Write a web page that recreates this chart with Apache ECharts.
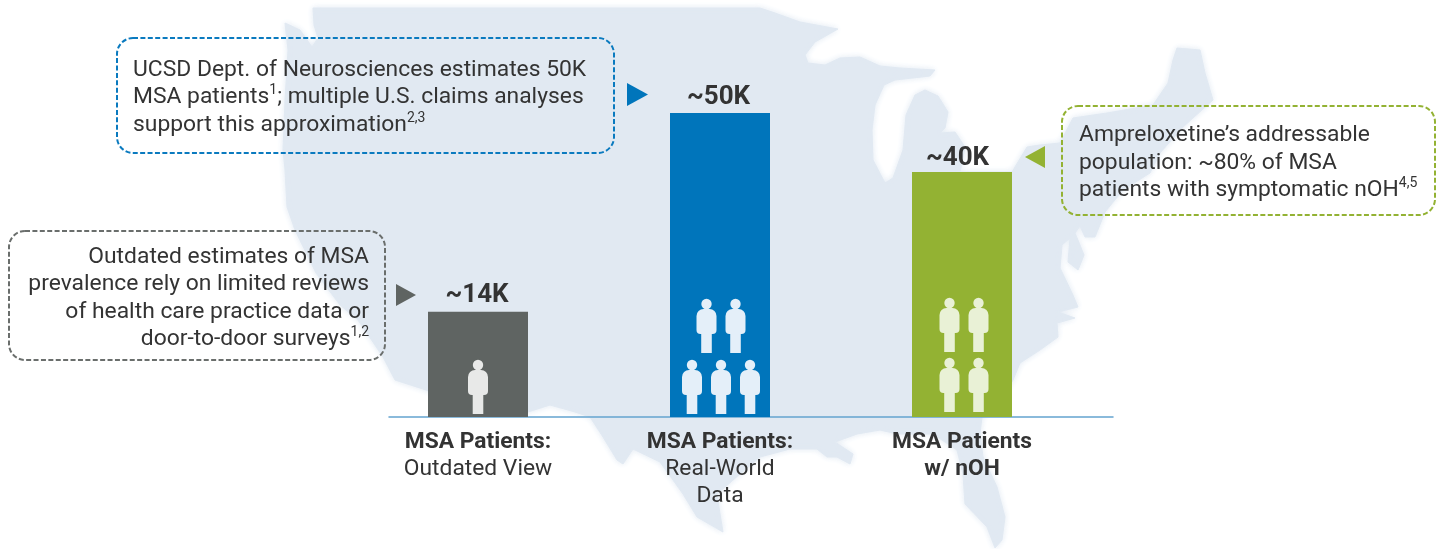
<!DOCTYPE html>
<html>
<head>
<meta charset="utf-8">
<title>MSA patients</title>
<script src="https://cdn.jsdelivr.net/npm/echarts@6/dist/echarts.min.js"></script>
<style>
  html,body{margin:0;padding:0;background:#fff;}
  #chart{width:1442px;height:549px;}
</style>
</head>
<body>
<div id="chart"></div>
<script>
  // bar heights as drawn (the ~14K bar is not to scale in the source)
  const categories = ['outdated','realWorld','nOH'];
  const barValues = [17.3,50,40.3];
  const barLabels = ['~14K','~50K','~40K'];
  const barColors = ['#5f6462','#0075bb','#93b233'];
  const personColors = ['#e8e9e8','#e4eff9','#e9f1d6'];
  // people per row, bottom row first
  const peopleRows = [[1],[3,2],[2,2]];

  const axisLabels = [
    '{b|MSA Patients:}\n{r|Outdated View}',
    '{b|MSA Patients:}\n{r|Real-World}\n{r|Data}',
    '{b|MSA Patients}\n{b|w/ nOH}'
  ];

  const blueNote = [
    '{n|UCSD Dept. of Neurosciences estimates 50K}',
    '{n|MSA patients}{s|1}{n|; multiple U.S. claims analyses}',
    '{n|support this approximation}{s|2,3}'
  ];
  const greyNote = [
    '{n|Outdated estimates of MSA}',
    '{n|prevalence rely on limited reviews}',
    '{n|of health care practice data or}',
    '{n|door-to-door surveys}{s|1,2}'
  ];
  const greenNote = [
    '{n|Ampreloxetine\u2019s addressable}',
    '{n|population: ~80% of MSA}',
    '{n|patients with symptomatic nOH}{s|4,5}'
  ];

  // hand traced outline of the background map
  const mapOutline = [
    [313,8],[314,25],[318,38],[312,47],[300,30],[285,23],[288,50],[285,100],[283,150],[285,170],
    [287,207],[295,230],[316,273],[340,305],[358,320],[383,357],[395,380],[426,390],[470,405],
    [528,412],[550,405],[575,412],[590,417],[603,437],[617,460],[623,464],[633,449],[660,462],
    [683,494],[697,517],[723,532],[720,514],[717,494],[740,474],[760,457],[790,449],[817,449],
    [827,457],[837,457],[850,464],[853,454],[835,442],[857,434],[880,430],[897,434],[933,434],
    [957,450],[963,474],[965,504],[987,527],[995,548],[1002,540],[1005,517],[997,487],[983,457],
    [980,434],[982,417],[1000,400],[1013,380],[1020,363],[1040,350],[1058,337],[1057,323],
    [1075,318],[1058,312],[1078,307],[1072,293],[1060,268],[1062,245],[1070,238],[1068,262],
    [1078,270],[1084,255],[1075,233],[1080,226],[1085,237],[1095,237],[1105,212],[1123,190],
    [1150,173],[1160,153],[1183,127],[1213,100],[1205,73],[1200,50],[1177,48],[1173,60],[1168,83],
    [1153,105],[1107,113],[1073,118],[1060,143],[1040,145],[1027,147],[1012,172],[960,172],
    [965,147],[955,132],[940,133],[945,128],[948,112],[938,96],[925,90],[915,95],[906,115],
    [903,150],[893,178],[885,183],[873,160],[872,130],[875,105],[884,85],[895,80],[930,76],
    [935,70],[900,68],[880,66],[860,57],[840,58],[825,65],[808,63],[805,55],[815,42],[838,29],
    [800,22],[775,13],[760,8]
  ];

  const noteRich = {
    n:{fontFamily:'Roboto',fontSize:22.85,fontWeight:400,lineHeight:27.4,fill:'#333',color:'#333'},
    s:{fontFamily:'Roboto',fontSize:14,fontWeight:400,lineHeight:27.4,verticalAlign:'top',fill:'#333',color:'#333'}
  };

  function noteBox(x,y,w,h,color){
    return {
      type:'rect',z:10,silent:true,
      shape:{x:x,y:y,width:w,height:h,r:16},
      style:{fill:'none',stroke:color,lineWidth:2,lineDash:[5,2.4]}
    };
  }
  function noteText(x,y,lines,align){
    return {
      type:'text',z:10,silent:true,
      x:x,y:y,
      style:{
        text:lines.join('\n'),
        rich:noteRich,
        align:align,
        verticalAlign:'top',
        fill:'#333'
      }
    };
  }
  function arrow(points,color){
    return {type:'polygon',z:10,silent:true,shape:{points:points},style:{fill:color}};
  }

  let people = [];
  peopleRows.forEach((rows,cat)=>{
    rows.forEach((n,row)=>{
      for(let i=0;i<n;i++){
        people.push([cat,row,i-(n-1)/2]);
      }
    });
  });

  function drawPerson(params,api){
    let cat = api.value(0), row = api.value(1), col = api.value(2);
    let base = api.coord([cat,0]);
    let x = base[0]+[0,1,2][cat]+col*29;
    let y = base[1]-[[3,64],[3,64],[5,65]][cat][row];
    let fill = personColors[cat];
    return {
      type:'group',
      children:[
        {type:'circle',shape:{cx:x,cy:y-49,r:5.2},style:{fill:fill}},
        {type:'rect',shape:{x:x-10,y:y-44,width:20,height:25,r:[7,7,4,4]},style:{fill:fill}},
        {type:'rect',shape:{x:x-5.3,y:y-20,width:10.6,height:20},style:{fill:fill}}
      ]
    };
  }

  let chart = echarts.init(document.getElementById('chart'));
  chart.setOption({
    animation:false,
    textStyle:{fontFamily:'Roboto'},
    grid:[
      {left:357,width:726,top:113,height:304},
      {left:389,width:724,top:113,height:304}
    ],
    xAxis:[{
      type:'category',
      gridIndex:0,
      data:categories,
      axisLine:{show:false},
      axisTick:{show:false},
      axisLabel:{
        margin:12,
        interval:0,
        formatter:(v,i)=>axisLabels[i],
        rich:{
          b:{fontFamily:'Roboto',fontSize:22.8,fontWeight:700,lineHeight:27,color:'#333'},
          r:{fontFamily:'Roboto',fontSize:22.8,fontWeight:400,lineHeight:27,color:'#333'}
        }
      }
    },{
      // only here for the baseline, which runs wider than the bars
      type:'value',
      gridIndex:1,
      position:'bottom',
      axisLine:{show:true,onZero:false,lineStyle:{color:'#64a4cf',width:1.5}},
      axisTick:{show:false},
      axisLabel:{show:false},
      splitLine:{show:false}
    }],
    yAxis:[
      {type:'value',gridIndex:0,min:0,max:50,show:false},
      {type:'value',gridIndex:1,min:0,max:50,show:false}
    ],
    series:[{
      type:'bar',
      barWidth:100,
      z:3,
      data:barValues.map((v,i)=>({
        value:v,
        itemStyle:{color:barColors[i]},
        label:{offset:[[-1,0],[-1.5,0],[-4.5,3]][i]}
      })),
      label:{
        show:true,
        position:'top',
        distance:3,
        formatter:p=>barLabels[p.dataIndex],
        fontFamily:'Roboto',
        fontSize:26,
        fontWeight:700,
        color:'#333'
      }
    },{
      type:'custom',
      coordinateSystem:'cartesian2d',
      z:4,
      silent:true,
      renderItem:drawPerson,
      data:people
    }],
    graphic:[
      {type:'polygon',z:0,silent:true,shape:{points:mapOutline},
        style:{fill:'#e1e9f2',stroke:'#e1e9f2',lineWidth:1,shadowBlur:6,shadowColor:'#e1e9f2'}},
      noteBox(117,38,497,115,'#0a7abf'),
      noteBox(9,231,376,129,'#6a6e6c'),
      noteBox(1062,106,373,109,'#93b233'),
      noteText(133,56.5,blueNote,'left'),
      noteText(369,243.5,greyNote,'right'),
      noteText(1079,122,greenNote,'left'),
      arrow([[627,83],[648,94.5],[627,106]],'#0075bb'),
      arrow([[396,284],[416,295],[396,306]],'#5f6462'),
      arrow([[1045,146],[1025,157],[1045,168]],'#93b233')
    ]
  });
</script>
</body>
</html>
